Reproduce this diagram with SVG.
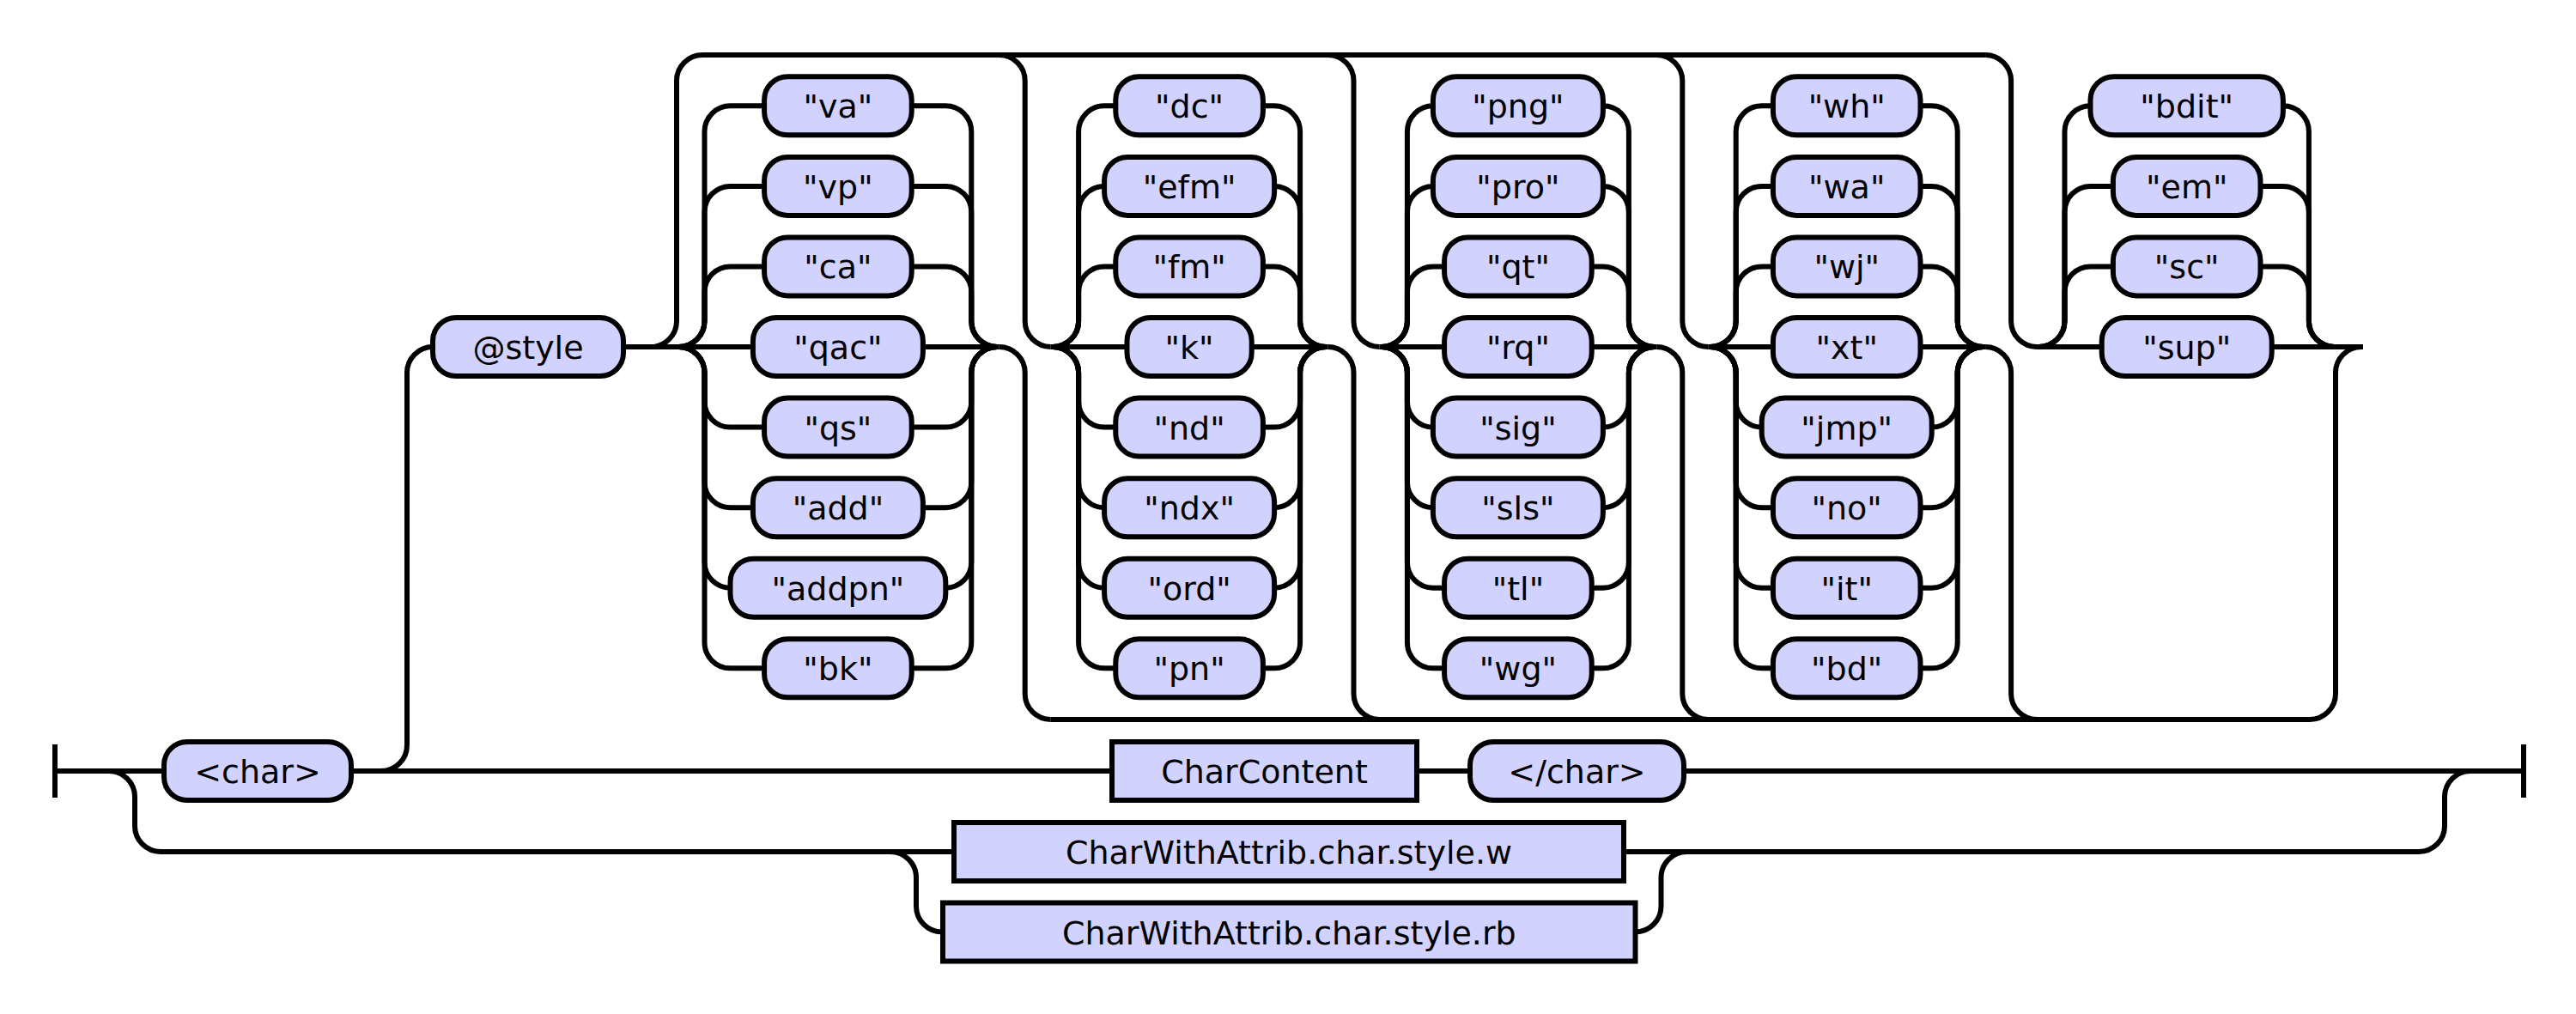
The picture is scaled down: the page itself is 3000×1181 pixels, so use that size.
<svg xmlns="http://www.w3.org/2000/svg" width="3000" height="1181" viewBox="0 0 3000 1181">
<style>
rect{fill:#D2D2FF;stroke:#000;stroke-width:6}
text{font-family:"DejaVu Sans",sans-serif;font-size:38px;text-anchor:middle;fill:#000}
#connectors path{fill:none;stroke:#000;stroke-width:6}
</style>
<rect x="0" y="0" width="3000" height="1181" style="fill:#fff;stroke:none"/>
<g id="connectors">
<path d="M64 867 V929 M64 898 H191 M409 898 H1295 M1650 898 H1712 M1961 898 H2939 M2939 867 V929"/>
<path d="M444 898 A30 30 0 0 0 474 868 V434 A30 30 0 0 1 504 404"/>
<path d="M758 404 A30 30 0 0 0 788 374 V94 A30 30 0 0 1 818 64 H2312.1"/>
<path d="M1163.7 64 A30 30 0 0 1 1193.7 94 V374 A30 30 0 0 0 1223.7 404"/>
<path d="M1546.5 64 A30 30 0 0 1 1576.5 94 V374 A30 30 0 0 0 1606.5 404"/>
<path d="M1929.3 64 A30 30 0 0 1 1959.3 94 V374 A30 30 0 0 0 1989.3 404"/>
<path d="M2312.1 64 A30 30 0 0 1 2342.1 94 V374 A30 30 0 0 0 2372.1 404"/>
<path d="M1163.7 404 A30 30 0 0 1 1193.7 434 V808 A30 30 0 0 0 1223.7 838"/>
<path d="M1546.5 404 A30 30 0 0 1 1576.5 434 V808 A30 30 0 0 0 1606.5 838"/>
<path d="M1929.3 404 A30 30 0 0 1 1959.3 434 V808 A30 30 0 0 0 1989.3 838"/>
<path d="M2312.1 404 A30 30 0 0 1 2342.1 434 V808 A30 30 0 0 0 2372.1 838"/>
<path d="M1223.7 838 H2690 A30 30 0 0 0 2720 808 V434 A30 30 0 0 1 2750 404"/>
<path d="M726 404 H876.9 M1074.9 404 H1163.7 M1223.7 404 H1312.5 M1457.7 404 H1546.5 M1606.5 404 H1682.1 M1853.7 404 H1929.3 M1989.3 404 H2064.9 M2236.5 404 H2312.1 M2372.1 404 H2447.7 M2645.7 404 H2752"/>
<path d="M790.5 404 A30 30 0 0 0 820.5 374 V153.3 A30 30 0 0 1 850.5 123.3 H890.1 M1061.7 123.3 H1101.3 A30 30 0 0 1 1131.3 153.3 V374 A30 30 0 0 0 1161.3 404"/>
<path d="M790.5 404 A30 30 0 0 0 820.5 374 V246.9 A30 30 0 0 1 850.5 216.9 H890.1 M1061.7 216.9 H1101.3 A30 30 0 0 1 1131.3 246.9 V374 A30 30 0 0 0 1161.3 404"/>
<path d="M790.5 404 A30 30 0 0 0 820.5 374 V340.4 A30 30 0 0 1 850.5 310.4 H890.1 M1061.7 310.4 H1101.3 A30 30 0 0 1 1131.3 340.4 V374 A30 30 0 0 0 1161.3 404"/>
<path d="M790.5 404 A30 30 0 0 1 820.5 434 V467.6 A30 30 0 0 0 850.5 497.6 H890.1 M1061.7 497.6 H1101.3 A30 30 0 0 0 1131.3 467.6 V434 A30 30 0 0 1 1161.3 404"/>
<path d="M790.5 404 A30 30 0 0 1 820.5 434 V561.2 A30 30 0 0 0 850.5 591.2 H876.9 M1074.9 591.2 H1101.3 A30 30 0 0 0 1131.3 561.2 V434 A30 30 0 0 1 1161.3 404"/>
<path d="M790.5 404 A30 30 0 0 1 820.5 434 V654.7 A30 30 0 0 0 850.5 684.7 M1101.3 684.7 A30 30 0 0 0 1131.3 654.7 V434 A30 30 0 0 1 1161.3 404"/>
<path d="M790.5 404 A30 30 0 0 1 820.5 434 V748.3 A30 30 0 0 0 850.5 778.3 H890.1 M1061.7 778.3 H1101.3 A30 30 0 0 0 1131.3 748.3 V434 A30 30 0 0 1 1161.3 404"/>
<path d="M1226.1 404 A30 30 0 0 0 1256.1 374 V153.3 A30 30 0 0 1 1286.1 123.3 H1299.3 M1470.9 123.3 H1484.1 A30 30 0 0 1 1514.1 153.3 V374 A30 30 0 0 0 1544.1 404"/>
<path d="M1226.1 404 A30 30 0 0 0 1256.1 374 V246.9 A30 30 0 0 1 1286.1 216.9 M1484.1 216.9 A30 30 0 0 1 1514.1 246.9 V374 A30 30 0 0 0 1544.1 404"/>
<path d="M1226.1 404 A30 30 0 0 0 1256.1 374 V340.4 A30 30 0 0 1 1286.1 310.4 H1299.3 M1470.9 310.4 H1484.1 A30 30 0 0 1 1514.1 340.4 V374 A30 30 0 0 0 1544.1 404"/>
<path d="M1226.1 404 A30 30 0 0 1 1256.1 434 V467.6 A30 30 0 0 0 1286.1 497.6 H1299.3 M1470.9 497.6 H1484.1 A30 30 0 0 0 1514.1 467.6 V434 A30 30 0 0 1 1544.1 404"/>
<path d="M1226.1 404 A30 30 0 0 1 1256.1 434 V561.2 A30 30 0 0 0 1286.1 591.2 M1484.1 591.2 A30 30 0 0 0 1514.1 561.2 V434 A30 30 0 0 1 1544.1 404"/>
<path d="M1226.1 404 A30 30 0 0 1 1256.1 434 V654.7 A30 30 0 0 0 1286.1 684.7 M1484.1 684.7 A30 30 0 0 0 1514.1 654.7 V434 A30 30 0 0 1 1544.1 404"/>
<path d="M1226.1 404 A30 30 0 0 1 1256.1 434 V748.3 A30 30 0 0 0 1286.1 778.3 H1299.3 M1470.9 778.3 H1484.1 A30 30 0 0 0 1514.1 748.3 V434 A30 30 0 0 1 1544.1 404"/>
<path d="M1608.9 404 A30 30 0 0 0 1638.9 374 V153.3 A30 30 0 0 1 1668.9 123.3 M1866.9 123.3 A30 30 0 0 1 1896.9 153.3 V374 A30 30 0 0 0 1926.9 404"/>
<path d="M1608.9 404 A30 30 0 0 0 1638.9 374 V246.9 A30 30 0 0 1 1668.9 216.9 M1866.9 216.9 A30 30 0 0 1 1896.9 246.9 V374 A30 30 0 0 0 1926.9 404"/>
<path d="M1608.9 404 A30 30 0 0 0 1638.9 374 V340.4 A30 30 0 0 1 1668.9 310.4 H1682.1 M1853.7 310.4 H1866.9 A30 30 0 0 1 1896.9 340.4 V374 A30 30 0 0 0 1926.9 404"/>
<path d="M1608.9 404 A30 30 0 0 1 1638.9 434 V467.6 A30 30 0 0 0 1668.9 497.6 M1866.9 497.6 A30 30 0 0 0 1896.9 467.6 V434 A30 30 0 0 1 1926.9 404"/>
<path d="M1608.9 404 A30 30 0 0 1 1638.9 434 V561.2 A30 30 0 0 0 1668.9 591.2 M1866.9 591.2 A30 30 0 0 0 1896.9 561.2 V434 A30 30 0 0 1 1926.9 404"/>
<path d="M1608.9 404 A30 30 0 0 1 1638.9 434 V654.7 A30 30 0 0 0 1668.9 684.7 H1682.1 M1853.7 684.7 H1866.9 A30 30 0 0 0 1896.9 654.7 V434 A30 30 0 0 1 1926.9 404"/>
<path d="M1608.9 404 A30 30 0 0 1 1638.9 434 V748.3 A30 30 0 0 0 1668.9 778.3 H1682.1 M1853.7 778.3 H1866.9 A30 30 0 0 0 1896.9 748.3 V434 A30 30 0 0 1 1926.9 404"/>
<path d="M1991.7 404 A30 30 0 0 0 2021.7 374 V153.3 A30 30 0 0 1 2051.7 123.3 H2064.9 M2236.5 123.3 H2249.7 A30 30 0 0 1 2279.7 153.3 V374 A30 30 0 0 0 2309.7 404"/>
<path d="M1991.7 404 A30 30 0 0 0 2021.7 374 V246.9 A30 30 0 0 1 2051.7 216.9 H2064.9 M2236.5 216.9 H2249.7 A30 30 0 0 1 2279.7 246.9 V374 A30 30 0 0 0 2309.7 404"/>
<path d="M1991.7 404 A30 30 0 0 0 2021.7 374 V340.4 A30 30 0 0 1 2051.7 310.4 H2064.9 M2236.5 310.4 H2249.7 A30 30 0 0 1 2279.7 340.4 V374 A30 30 0 0 0 2309.7 404"/>
<path d="M1991.7 404 A30 30 0 0 1 2021.7 434 V467.6 A30 30 0 0 0 2051.7 497.6 M2249.7 497.6 A30 30 0 0 0 2279.7 467.6 V434 A30 30 0 0 1 2309.7 404"/>
<path d="M1991.7 404 A30 30 0 0 1 2021.7 434 V561.2 A30 30 0 0 0 2051.7 591.2 H2064.9 M2236.5 591.2 H2249.7 A30 30 0 0 0 2279.7 561.2 V434 A30 30 0 0 1 2309.7 404"/>
<path d="M1991.7 404 A30 30 0 0 1 2021.7 434 V654.7 A30 30 0 0 0 2051.7 684.7 H2064.9 M2236.5 684.7 H2249.7 A30 30 0 0 0 2279.7 654.7 V434 A30 30 0 0 1 2309.7 404"/>
<path d="M1991.7 404 A30 30 0 0 1 2021.7 434 V748.3 A30 30 0 0 0 2051.7 778.3 H2064.9 M2236.5 778.3 H2249.7 A30 30 0 0 0 2279.7 748.3 V434 A30 30 0 0 1 2309.7 404"/>
<path d="M2374.5 404 A30 30 0 0 0 2404.5 374 V153.3 A30 30 0 0 1 2434.5 123.3 M2658.9 123.3 A30 30 0 0 1 2688.9 153.3 V374 A30 30 0 0 0 2718.9 404"/>
<path d="M2374.5 404 A30 30 0 0 0 2404.5 374 V246.9 A30 30 0 0 1 2434.5 216.9 H2460.9 M2632.5 216.9 H2658.9 A30 30 0 0 1 2688.9 246.9 V374 A30 30 0 0 0 2718.9 404"/>
<path d="M2374.5 404 A30 30 0 0 0 2404.5 374 V340.4 A30 30 0 0 1 2434.5 310.4 H2460.9 M2632.5 310.4 H2658.9 A30 30 0 0 1 2688.9 340.4 V374 A30 30 0 0 0 2718.9 404"/>
<path d="M127 898 A30 30 0 0 1 157 928 V962 A30 30 0 0 0 187 992 H1111"/>
<path d="M1037 992 A30 30 0 0 1 1067 1022 V1055.5 A30 30 0 0 0 1097 1085.5 H1098"/>
<path d="M1891 992 H2817 A30 30 0 0 0 2847 962 V928 A30 30 0 0 1 2877 898"/>
<path d="M1904.5 1085.5 A30 30 0 0 0 1934.5 1055.5 V1022 A30 30 0 0 1 1964.5 992"/>
</g>
<g id="n-char" transform="translate(300,898)"><rect x="-109" y="-34" width="218" height="68" rx="27"/><text y="14">&lt;char&gt;</text></g>
<g id="n-style" transform="translate(615,404)"><rect x="-111" y="-34" width="222" height="68" rx="27"/><text y="14">@style</text></g>
<g id="n-va" transform="translate(975.9,123.3)"><rect x="-85.8" y="-34" width="171.6" height="68" rx="27"/><text y="14">"va"</text></g>
<g id="n-vp" transform="translate(975.9,216.9)"><rect x="-85.8" y="-34" width="171.6" height="68" rx="27"/><text y="14">"vp"</text></g>
<g id="n-ca" transform="translate(975.9,310.4)"><rect x="-85.8" y="-34" width="171.6" height="68" rx="27"/><text y="14">"ca"</text></g>
<g id="n-qac" transform="translate(975.9,404)"><rect x="-99" y="-34" width="198" height="68" rx="27"/><text y="14">"qac"</text></g>
<g id="n-qs" transform="translate(975.9,497.6)"><rect x="-85.8" y="-34" width="171.6" height="68" rx="27"/><text y="14">"qs"</text></g>
<g id="n-add" transform="translate(975.9,591.2)"><rect x="-99" y="-34" width="198" height="68" rx="27"/><text y="14">"add"</text></g>
<g id="n-addpn" transform="translate(975.9,684.7)"><rect x="-125.4" y="-34" width="250.8" height="68" rx="27"/><text y="14">"addpn"</text></g>
<g id="n-bk" transform="translate(975.9,778.3)"><rect x="-85.8" y="-34" width="171.6" height="68" rx="27"/><text y="14">"bk"</text></g>
<g id="n-dc" transform="translate(1385.1,123.3)"><rect x="-85.8" y="-34" width="171.6" height="68" rx="27"/><text y="14">"dc"</text></g>
<g id="n-efm" transform="translate(1385.1,216.9)"><rect x="-99" y="-34" width="198" height="68" rx="27"/><text y="14">"efm"</text></g>
<g id="n-fm" transform="translate(1385.1,310.4)"><rect x="-85.8" y="-34" width="171.6" height="68" rx="27"/><text y="14">"fm"</text></g>
<g id="n-k" transform="translate(1385.1,404)"><rect x="-72.6" y="-34" width="145.2" height="68" rx="27"/><text y="14">"k"</text></g>
<g id="n-nd" transform="translate(1385.1,497.6)"><rect x="-85.8" y="-34" width="171.6" height="68" rx="27"/><text y="14">"nd"</text></g>
<g id="n-ndx" transform="translate(1385.1,591.2)"><rect x="-99" y="-34" width="198" height="68" rx="27"/><text y="14">"ndx"</text></g>
<g id="n-ord" transform="translate(1385.1,684.7)"><rect x="-99" y="-34" width="198" height="68" rx="27"/><text y="14">"ord"</text></g>
<g id="n-pn" transform="translate(1385.1,778.3)"><rect x="-85.8" y="-34" width="171.6" height="68" rx="27"/><text y="14">"pn"</text></g>
<g id="n-png" transform="translate(1767.9,123.3)"><rect x="-99" y="-34" width="198" height="68" rx="27"/><text y="14">"png"</text></g>
<g id="n-pro" transform="translate(1767.9,216.9)"><rect x="-99" y="-34" width="198" height="68" rx="27"/><text y="14">"pro"</text></g>
<g id="n-qt" transform="translate(1767.9,310.4)"><rect x="-85.8" y="-34" width="171.6" height="68" rx="27"/><text y="14">"qt"</text></g>
<g id="n-rq" transform="translate(1767.9,404)"><rect x="-85.8" y="-34" width="171.6" height="68" rx="27"/><text y="14">"rq"</text></g>
<g id="n-sig" transform="translate(1767.9,497.6)"><rect x="-99" y="-34" width="198" height="68" rx="27"/><text y="14">"sig"</text></g>
<g id="n-sls" transform="translate(1767.9,591.2)"><rect x="-99" y="-34" width="198" height="68" rx="27"/><text y="14">"sls"</text></g>
<g id="n-tl" transform="translate(1767.9,684.7)"><rect x="-85.8" y="-34" width="171.6" height="68" rx="27"/><text y="14">"tl"</text></g>
<g id="n-wg" transform="translate(1767.9,778.3)"><rect x="-85.8" y="-34" width="171.6" height="68" rx="27"/><text y="14">"wg"</text></g>
<g id="n-wh" transform="translate(2150.7,123.3)"><rect x="-85.8" y="-34" width="171.6" height="68" rx="27"/><text y="14">"wh"</text></g>
<g id="n-wa" transform="translate(2150.7,216.9)"><rect x="-85.8" y="-34" width="171.6" height="68" rx="27"/><text y="14">"wa"</text></g>
<g id="n-wj" transform="translate(2150.7,310.4)"><rect x="-85.8" y="-34" width="171.6" height="68" rx="27"/><text y="14">"wj"</text></g>
<g id="n-xt" transform="translate(2150.7,404)"><rect x="-85.8" y="-34" width="171.6" height="68" rx="27"/><text y="14">"xt"</text></g>
<g id="n-jmp" transform="translate(2150.7,497.6)"><rect x="-99" y="-34" width="198" height="68" rx="27"/><text y="14">"jmp"</text></g>
<g id="n-no" transform="translate(2150.7,591.2)"><rect x="-85.8" y="-34" width="171.6" height="68" rx="27"/><text y="14">"no"</text></g>
<g id="n-it" transform="translate(2150.7,684.7)"><rect x="-85.8" y="-34" width="171.6" height="68" rx="27"/><text y="14">"it"</text></g>
<g id="n-bd" transform="translate(2150.7,778.3)"><rect x="-85.8" y="-34" width="171.6" height="68" rx="27"/><text y="14">"bd"</text></g>
<g id="n-bdit" transform="translate(2546.7,123.3)"><rect x="-112.2" y="-34" width="224.4" height="68" rx="27"/><text y="14">"bdit"</text></g>
<g id="n-em" transform="translate(2546.7,216.9)"><rect x="-85.8" y="-34" width="171.6" height="68" rx="27"/><text y="14">"em"</text></g>
<g id="n-sc" transform="translate(2546.7,310.4)"><rect x="-85.8" y="-34" width="171.6" height="68" rx="27"/><text y="14">"sc"</text></g>
<g id="n-sup" transform="translate(2546.7,404)"><rect x="-99" y="-34" width="198" height="68" rx="27"/><text y="14">"sup"</text></g>
<g id="n-charcontent" transform="translate(1472.5,898)"><rect x="-177.5" y="-34" width="355" height="68"/><text y="14">CharContent</text></g>
<g id="n-endchar" transform="translate(1836.5,898)"><rect x="-124.5" y="-34" width="249" height="68" rx="27"/><text y="14">&lt;/char&gt;</text></g>
<g id="n-w" transform="translate(1501,992)"><rect x="-390" y="-34" width="780" height="68"/><text y="14">CharWithAttrib.char.style.w</text></g>
<g id="n-rb" transform="translate(1501.25,1085.5)"><rect x="-403.25" y="-34" width="806.5" height="68"/><text y="14">CharWithAttrib.char.style.rb</text></g>
</svg>
